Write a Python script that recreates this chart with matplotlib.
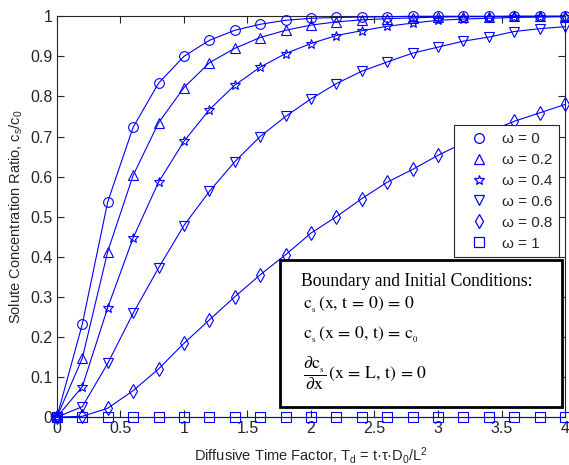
import matplotlib
matplotlib.use("Agg")
import matplotlib.pyplot as plt
from matplotlib.lines import Line2D
from matplotlib.patches import Rectangle

plt.rcParams['font.family'] = ['Liberation Sans', 'DejaVu Sans']
plt.rcParams['mathtext.fontset'] = 'custom'
plt.rcParams['mathtext.rm'] = 'Liberation Sans'
plt.rcParams['mathtext.it'] = 'Liberation Sans'

# diffusive time factor, markers every 0.2
td = [0.0, 0.2, 0.4, 0.6, 0.8, 1.0, 1.2, 1.4, 1.6, 1.8, 2.0,
      2.2, 2.4, 2.6, 2.8, 3.0, 3.2, 3.4, 3.6, 3.8, 4.0]

w_0 = [0, 0.232, 0.537, 0.723, 0.833, 0.900, 0.940, 0.965, 0.980, 0.990, 0.995,
       0.997, 0.998, 0.999, 1.0, 1.0, 1.0, 1.0, 1.0, 1.0, 1.0]
w_02 = [0, 0.147, 0.413, 0.603, 0.734, 0.822, 0.884, 0.920, 0.947, 0.965, 0.978,
        0.986, 0.991, 0.994, 0.996, 0.998, 0.999, 0.999, 1.0, 1.0, 1.0]
w_04 = [0, 0.076, 0.273, 0.447, 0.586, 0.688, 0.767, 0.828, 0.873, 0.907, 0.932,
        0.952, 0.964, 0.975, 0.983, 0.990, 0.993, 0.995, 0.997, 0.998, 0.999]
w_06 = [0, 0.026, 0.134, 0.259, 0.372, 0.478, 0.563, 0.637, 0.700, 0.750, 0.794,
        0.832, 0.863, 0.886, 0.908, 0.923, 0.938, 0.948, 0.962, 0.969, 0.974]
w_08 = [0, 0.002, 0.022, 0.066, 0.120, 0.184, 0.2425, 0.300, 0.355, 0.405, 0.459,
        0.500, 0.545, 0.586, 0.618, 0.653, 0.684, 0.712, 0.738, 0.759, 0.780]
w_1 = [0] * 21

series = [w_0, w_02, w_04, w_06, w_08, w_1]
labels = ["ω = 0", "ω = 0.2", "ω = 0.4", "ω = 0.6", "ω = 0.8", "ω = 1"]
markers = ['o', '^', '*', 'v', 'd', 's']
msizes = [7, 7.5, 7.5, 7.5, 7.5, 6.5]

blue = '#0000ff'
dark = '#262626'

fig = plt.figure(figsize=(5.69, 4.65), dpi=100)
ax = fig.add_axes([0.100, 0.103, 0.893, 0.862])

handles = []
for y, lab, m, ms in zip(series, labels, markers, msizes):
    ax.plot(td, y, color=blue, lw=0.8, marker=m, ms=ms, mfc='none',
            mec=blue, mew=0.8, clip_on=False, zorder=3)
    handles.append(Line2D([], [], ls='none', marker=m, ms=ms, mfc='none',
                          mec=blue, mew=0.9, label=lab))

ax.set_xlim(0, 4)
ax.set_ylim(0, 1)
ax.set_xticks([0, 0.5, 1, 1.5, 2, 2.5, 3, 3.5, 4])
ax.set_xticklabels(['0', '0.5', '1', '1.5', '2', '2.5', '3', '3.5', '4'])
ax.set_yticks([i / 10 for i in range(11)])
ax.set_yticklabels(['0', '0.1', '0.2', '0.3', '0.4', '0.5', '0.6', '0.7',
                    '0.8', '0.9', '1'])
ax.tick_params(direction='in', top=True, right=True, length=5, width=0.8,
               labelsize=11.5, colors=dark, pad=3)
for s in ax.spines.values():
    s.set_color(dark)
    s.set_linewidth(0.8)
    s.set_zorder(2)

ax.set_xlabel("Diffusive Time Factor, T$_\\mathrm{d}$ = t·τ·D$_\\mathrm{0}$/L$^\\mathrm{2}$",
              fontsize=10.5, color=dark, labelpad=6)
ax.set_ylabel("Solute Concentration Ratio, c$_\\mathrm{s}$/c$_\\mathrm{0}$",
              fontsize=10.5, color=dark, labelpad=4)

leg = ax.legend(handles=handles, loc='upper right',
                bbox_to_anchor=(0.988, 0.728), fontsize=11, frameon=True,
                fancybox=False, framealpha=1, edgecolor=dark,
                borderpad=0.45, labelspacing=0.45, handletextpad=0.35,
                handlelength=2.3, borderaxespad=0)
leg.get_frame().set_linewidth(0.8)
leg.set_zorder(7)
for t in leg.get_texts():
    t.set_color(dark)

# boundary / initial conditions box
ax.add_patch(Rectangle((0.439, 0.025), 0.555, 0.366, transform=ax.transAxes,
                       facecolor='white', edgecolor='black', lw=2, zorder=5))
tkw = dict(transform=ax.transAxes, fontsize=12.7, family='Liberation Serif',
           math_fontfamily='stix', va='center', ha='left', zorder=6)
ax.text(0.481, 0.338, "Boundary and Initial Conditions:", **tkw)
ax.text(0.484, 0.279,
        r"$\mathrm{c}_{_\mathrm{s}}\,(\mathrm{x},\,\mathrm{t}\,=\,0)\,=\,0$", **tkw)
ax.text(0.484, 0.204,
        r"$\mathrm{c}_{_\mathrm{s}}\,(\mathrm{x}\,=\,0,\,\mathrm{t})\,=\,\mathrm{c}_{_0}$",
        **tkw)
ax.text(0.484, 0.110,
        r"$\dfrac{\partial \mathrm{c}_{_\mathrm{s}}}{\partial \mathrm{x}}\,"
        r"(\mathrm{x}\,=\,\mathrm{L},\,\mathrm{t})\,=\,0$", **tkw)

fig.savefig("out.png", dpi=100)
